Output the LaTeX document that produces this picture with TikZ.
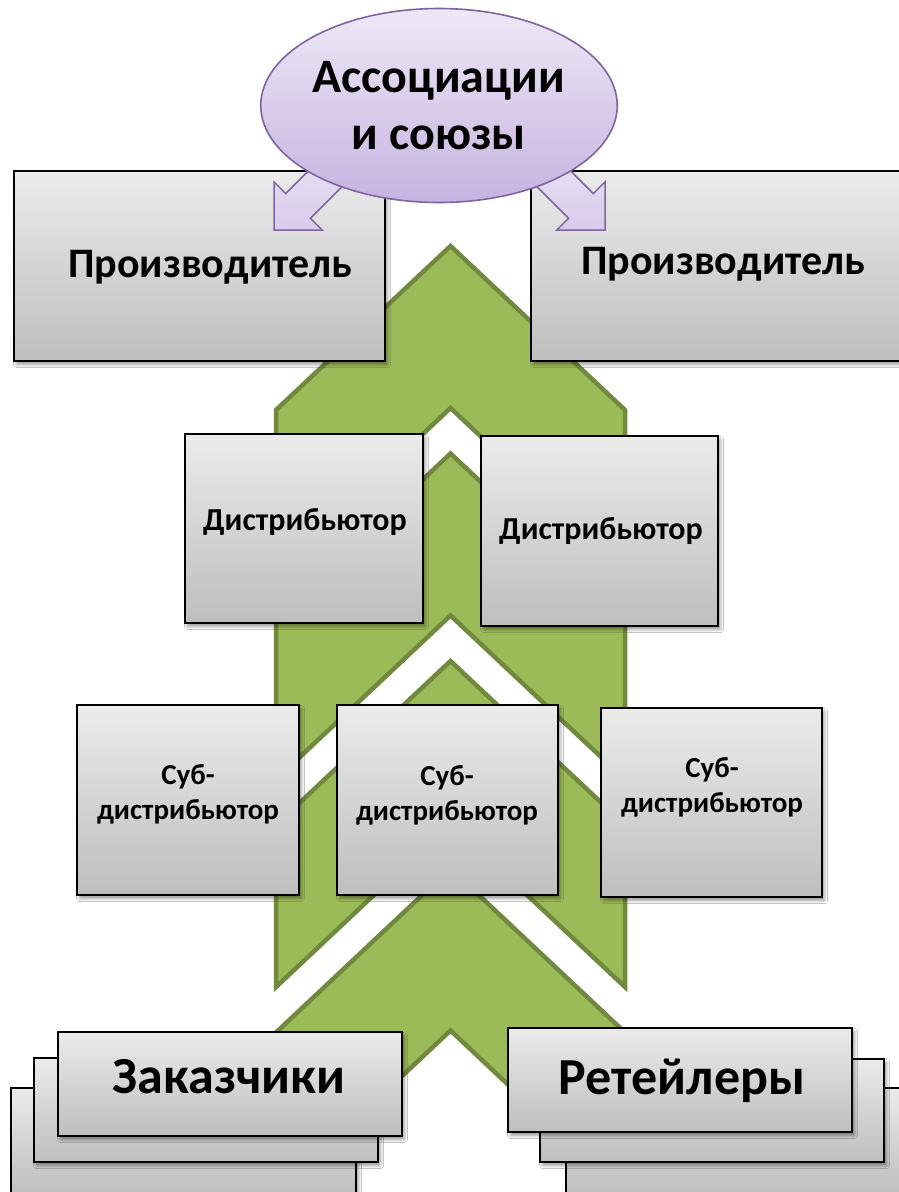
\documentclass[tikz,border=0pt]{standalone}
\usepackage{fontspec}
\setmainfont{Carlito}
\usetikzlibrary{shapes.geometric,shadows.blur}
\definecolor{chevfill}{HTML}{9BBB59}
\definecolor{chevline}{HTML}{71893F}
\definecolor{boxtop}{HTML}{EBEBEB}
\definecolor{boxbot}{HTML}{BEBEBE}
\definecolor{purpline}{HTML}{8064A2}
\definecolor{elltop}{HTML}{EEE8F6}
\definecolor{ellbot}{HTML}{C6B3E0}
\definecolor{arrtop}{HTML}{EEE8F6}
\definecolor{arrbot}{HTML}{D8CBEB}
\begin{document}
\begin{tikzpicture}[x=1pt,y=-1pt,
  chev/.style={fill=chevfill, draw=chevline, line width=4.5pt, line join=miter},
  gbox/.style={rectangle, draw=black, line width=1.8pt, inner sep=0pt,
    top color=boxtop, bottom color=boxbot,
    blur shadow={shadow xshift=2.5pt, shadow yshift=-3.5pt, shadow blur radius=3pt, shadow blur steps=6, shadow opacity=40}},
  arr/.style={draw=purpline, line width=1.5pt, top color=arrtop, bottom color=arrbot, line join=miter},
  ell/.style={ellipse, draw=purpline, line width=1.6pt, top color=elltop, bottom color=ellbot, inner sep=0pt, align=center,
    font=\fontsize{48}{57}\selectfont\bfseries},
  tprod/.style={font=\fontsize{42}{50}\selectfont\bfseries, inner sep=0pt, anchor=base},
  tdist/.style={font=\fontsize{32}{38}\selectfont\bfseries, inner sep=0pt, anchor=base},
  tsub/.style={font=\fontsize{29}{35}\selectfont\bfseries, inner sep=0pt, anchor=base, align=center},
  tbig/.style={font=\fontsize{52}{60}\selectfont\bfseries, inner sep=0pt, anchor=base}
]
\useasboundingbox (0,0) rectangle (899,1192);
\fill[white] (0,0) rectangle (899,1192);

% chevrons
\foreach \T in {246,453.5,661,868.5}{
  \draw[chev] (450.5,\T) -- (625,{\T+164}) -- (625,{\T+326}) -- (450.5,{\T+162})
     -- (276,{\T+326}) -- (276,{\T+164}) -- cycle;
}

% producers
\node[gbox, minimum width=371pt, minimum height=190pt] (prodL) at (199.5,266) {};
\node[tprod] (prodLt) at (210,277) {Производитель};
\node[gbox, minimum width=371pt, minimum height=190pt] (prodR) at (716.5,266) {};
\node[tprod] (prodRt) at (723,274) {Производитель};

% distributors
\node[gbox, minimum width=238pt, minimum height=189pt] (distL) at (304,528.5) {};
\node[tdist] (distLt) at (305,530) {Дистрибьютор};
\node[gbox, minimum width=237pt, minimum height=190pt] (distR) at (599.5,531) {};
\node[tdist] (distRt) at (601,539) {Дистрибьютор};

% sub-distributors
\node[gbox, minimum width=222pt, minimum height=190pt] (subL) at (188,800) {};
\node[tsub] (subLt) at (188,819) {Суб-\\дистрибьютор};
\node[gbox, minimum width=221pt, minimum height=190pt] (subC) at (447.5,800) {};
\node[tsub] (subCt) at (447,820) {Суб-\\дистрибьютор};
\node[gbox, minimum width=221pt, minimum height=189pt] (subR) at (711.5,802.5) {};
\node[tsub] (subRt) at (712,812) {Суб-\\дистрибьютор};

% customers stack
\node[gbox, minimum width=345pt, minimum height=107pt] (cust3) at (183.5,1141.5) {};
\node[gbox, minimum width=344pt, minimum height=104pt] (cust2) at (206,1110) {};
\node[gbox, minimum width=344pt, minimum height=104pt] (cust1) at (230,1084) {};
\node[tbig] (custt) at (229,1093) {Заказчики};

% retailers stack
\node[gbox, minimum width=344pt, minimum height=107pt] (ret3) at (738,1141.5) {};
\node[gbox, minimum width=344pt, minimum height=103pt] (ret2) at (712,1110.5) {};
\node[gbox, minimum width=344pt, minimum height=104pt] (ret1) at (680,1080) {};
\node[tbig] (rett) at (682,1094) {Ретейлеры};

% arrows from the ellipse
\draw[arr] (274,230) -- (322.1,230) -- (310.4,218.3) -- (371.2,157.5) -- (346.5,132.8)
   -- (285.7,193.6) -- (274,181.9) -- cycle;
\draw[arr] (605,230) -- (556.9,230) -- (568.6,218.3) -- (507.8,157.5) -- (532.5,132.8)
   -- (593.3,193.6) -- (605,181.9) -- cycle;

% ellipse
\node[ell, minimum width=346pt, minimum height=194pt] (assoc) at (439,105.5) {Ассоциации\\и союзы};
\end{tikzpicture}
\end{document}
